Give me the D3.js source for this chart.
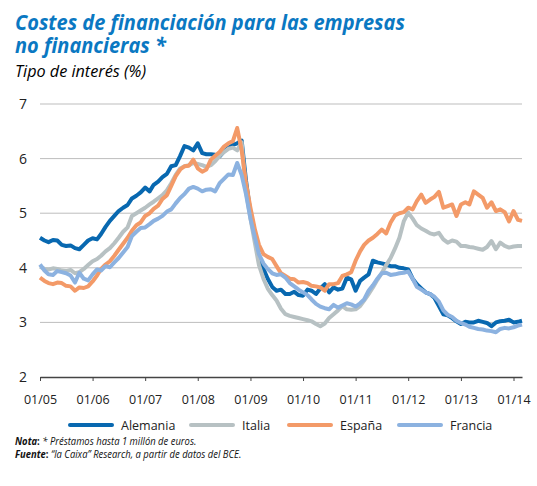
<!DOCTYPE html>
<html>
<head>
<meta charset="utf-8">
<script src="https://cdn.jsdelivr.net/npm/d3@7"></script>
<style>
  body { margin: 0; background: #fff; }
  svg { display: block; font-family: "Open Sans", sans-serif; }
</style>
</head>
<body>
<svg width="537" height="486"></svg>
<script>
const width = 537, height = 486;

// monthly values, 01/2005 - 03/2014
const alemania = [4.55,4.50,4.47,4.51,4.50,4.42,4.40,4.41,4.36,4.34,4.42,4.50,4.54,4.52,4.62,4.75,4.86,4.95,5.04,5.10,
  5.15,5.27,5.32,5.38,5.47,5.40,5.52,5.58,5.66,5.72,5.86,5.88,6.05,6.23,6.20,6.15,6.28,6.10,6.08,6.08,
  6.07,6.04,6.13,6.20,6.25,6.28,6.33,5.60,5.00,4.55,4.20,3.98,3.80,3.65,3.58,3.60,3.52,3.52,3.56,3.50,
  3.49,3.60,3.58,3.52,3.62,3.70,3.55,3.64,3.60,3.62,3.82,3.79,3.58,3.76,3.82,3.88,4.13,4.10,4.08,4.06,
  4.03,4.03,4.00,3.99,3.97,3.80,3.70,3.62,3.55,3.52,3.45,3.30,3.15,3.13,3.08,3.02,2.97,3.01,3.00,3.00,
  3.03,3.01,2.99,2.93,3.00,3.02,3.03,3.05,3.00,3.01,3.03];
const italia = [4.02,3.98,3.97,3.99,3.98,3.95,3.94,3.96,3.90,3.92,3.98,4.05,4.12,4.16,4.22,4.30,4.36,4.45,4.55,4.66,
  4.74,4.95,5.00,5.05,5.10,5.16,5.21,5.27,5.33,5.42,5.55,5.70,5.82,5.86,5.88,5.92,5.90,5.88,5.85,5.88,
  5.95,6.05,6.12,6.18,6.20,6.15,6.30,5.40,4.90,4.45,4.05,3.80,3.62,3.50,3.40,3.25,3.15,3.12,3.10,3.08,
  3.06,3.04,3.02,2.97,2.93,2.98,3.08,3.15,3.22,3.30,3.24,3.23,3.24,3.30,3.40,3.52,3.64,3.78,3.90,4.05,
  4.18,4.35,4.55,4.85,5.01,4.90,4.78,4.72,4.68,4.63,4.61,4.64,4.52,4.46,4.50,4.48,4.40,4.40,4.38,4.37,
  4.35,4.33,4.38,4.49,4.34,4.46,4.40,4.37,4.39,4.40,4.40];
const espana = [3.82,3.76,3.72,3.70,3.73,3.72,3.67,3.66,3.58,3.64,3.63,3.66,3.75,3.86,3.98,4.06,4.12,4.22,4.33,4.44,
  4.55,4.68,4.78,4.83,4.95,5.00,5.08,5.14,5.26,5.33,5.50,5.68,5.80,5.86,5.87,5.98,5.82,5.76,5.80,5.98,
  6.05,6.12,6.22,6.28,6.32,6.56,6.15,5.55,5.10,4.70,4.42,4.25,4.20,4.16,4.03,3.90,3.85,3.80,3.79,3.73,
  3.74,3.72,3.67,3.66,3.64,3.58,3.70,3.70,3.72,3.85,3.88,3.92,4.13,4.30,4.42,4.50,4.55,4.62,4.70,4.63,
  4.83,4.96,5.00,5.02,5.10,5.07,5.22,5.34,5.19,5.25,5.30,5.39,5.10,5.13,5.16,4.95,5.16,5.20,5.16,5.40,
  5.34,5.28,5.10,5.20,5.04,5.07,5.02,4.85,5.04,4.88,4.86];
const francia = [4.06,3.95,3.88,3.87,3.94,3.92,3.90,3.86,3.73,3.91,3.80,3.77,3.88,3.97,3.95,4.03,4.01,4.10,4.18,4.28,
  4.38,4.58,4.66,4.73,4.74,4.80,4.86,4.90,4.95,5.03,5.07,5.18,5.28,5.35,5.45,5.48,5.45,5.40,5.43,5.44,
  5.40,5.55,5.63,5.71,5.70,5.92,5.70,5.35,4.90,4.55,4.25,4.08,3.98,3.90,3.87,3.88,3.82,3.72,3.66,3.60,
  3.55,3.50,3.42,3.34,3.29,3.26,3.24,3.32,3.27,3.31,3.35,3.33,3.29,3.35,3.42,3.58,3.68,3.80,3.90,3.91,
  3.87,3.88,3.90,3.91,3.93,3.80,3.65,3.60,3.55,3.52,3.47,3.38,3.22,3.14,3.10,3.03,2.99,2.96,2.92,2.90,
  2.88,2.87,2.85,2.84,2.82,2.88,2.90,2.89,2.91,2.94,2.96];

const seriesNames = ["Alemania", "Italia", "España", "Francia"];
const seriesColors = ["#0868b0", "#b7c1c3", "#f39a68", "#8cb2e0"];
const seriesValues = [alemania, italia, espana, francia];
const yTicks = [2, 3, 4, 5, 6, 7];

const months = d3.timeMonth.range(new Date(2005, 0, 1), new Date(2014, 3, 1));

const svg = d3.select("svg");

// title: one text, two lines, squeezed so line 1 ends near x=405
const titleG = svg.append("g");
const titleText = titleG.append("text")
  .attr("fill", "#0a78c2")
  .style("font-weight", "bold")
  .style("font-style", "italic")
  .style("font-size", "20.5px");
const t1 = titleText.append("tspan").attr("x", 0).attr("y", 30)
  .text("Costes de financiación para las empresas");
titleText.append("tspan").attr("x", 0).attr("y", 53).text("no financieras *");
const sx = 390 / t1.node().getComputedTextLength();
titleG.attr("transform", `translate(15,0) scale(${sx},1)`);

svg.append("text")
  .attr("x", 15).attr("y", 77)
  .style("font-style", "italic").style("font-size", "16px")
  .attr("textLength", 131).attr("lengthAdjust", "spacingAndGlyphs")
  .text("Tipo de interés (%)");

// scales
const x = d3.scaleTime()
  .domain([months[0], months[months.length - 1]])
  .range([40, 522]);
const y = d3.scaleLinear()
  .domain([2, 7])
  .range([377, 104]);

// grid
svg.append("g")
  .selectAll("line")
  .data(yTicks.filter(d => d > 2))
  .enter().append("line")
  .attr("x1", 40).attr("x2", 522)
  .attr("y1", d => y(d)).attr("y2", d => y(d))
  .attr("stroke", "#bdbdbd")
  .attr("stroke-width", 1);

// y labels
svg.append("g")
  .selectAll("text")
  .data(yTicks)
  .enter().append("text")
  .attr("x", 23).attr("y", d => y(d) + 5)
  .attr("text-anchor", "middle")
  .style("font-size", "14px")
  .attr("fill", "#222")
  .text(d => d);

// x axis
const xAxis = svg.append("g")
  .attr("transform", `translate(0,${y(2)})`)
  .call(d3.axisBottom(x)
    .ticks(d3.timeYear.every(1))
    .tickFormat(d3.timeFormat("%m/%y"))
    .tickSize(4)
    .tickSizeOuter(0));
xAxis.select(".domain").attr("stroke", "#444").attr("stroke-width", 1.5);
xAxis.selectAll(".tick line").attr("stroke", "#444");
xAxis.selectAll(".tick text")
  .attr("y", 18)
  .style("font-family", "Open Sans, sans-serif")
  .style("font-size", "12.5px")
  .attr("fill", "#222");

// lines
const line = d3.line()
  .x((d, i) => x(months[i]))
  .y(d => y(d));

seriesValues.forEach((vals, k) => {
  svg.append("path")
    .datum(vals)
    .attr("fill", "none")
    .attr("stroke", seriesColors[k])
    .attr("stroke-width", 4)
    .attr("stroke-linejoin", "round")
    .attr("d", line);
});

// legend
const legendX = [70, 191, 289, 399];
const legend = svg.append("g");
seriesNames.forEach((name, k) => {
  legend.append("line")
    .attr("x1", legendX[k]).attr("x2", legendX[k] + 42)
    .attr("y1", 425).attr("y2", 425)
    .attr("stroke", seriesColors[k])
    .attr("stroke-width", 4)
    .attr("stroke-linecap", "round");
  legend.append("text")
    .attr("x", legendX[k] + 51).attr("y", 429.5)
    .style("font-size", "12.5px")
    .attr("fill", "#222")
    .text(name);
});

// notes: one text block, squeezed to look like the condensed face
const notes = svg.append("g")
  .attr("transform", "translate(15,0) scale(0.9,1)")
  .append("text")
  .style("font-size", "10.5px")
  .attr("fill", "#111");
notes.append("tspan").attr("x", 0).attr("y", 445)
  .style("font-weight", "bold").style("font-style", "italic").text("Nota");
notes.append("tspan").style("font-weight", "bold").text(":");
notes.append("tspan").style("font-style", "italic").text(" * Préstamos hasta 1 millón de euros.");
notes.append("tspan").attr("x", 0).attr("y", 458)
  .style("font-weight", "bold").style("font-style", "italic").text("Fuente");
notes.append("tspan").style("font-weight", "bold").text(":");
notes.append("tspan").style("font-style", "italic").text(" “la Caixa” Research, a partir de datos del BCE.");
</script>
</body>
</html>
